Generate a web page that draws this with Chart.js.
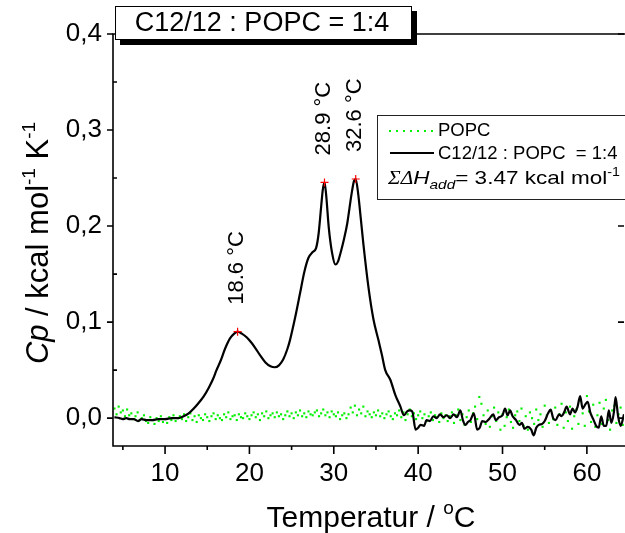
<!DOCTYPE html>
<html>
<head>
<meta charset="utf-8">
<script src="https://cdn.jsdelivr.net/npm/chart.js@4.4.1/dist/chart.umd.min.js"></script>
<style>
  html, body { margin: 0; padding: 0; background: #fff; overflow: hidden; }
  canvas { display: block; }
</style>
</head>
<body>
<canvas id="dsc" width="625" height="533"></canvas>
<script>
// Excess heat capacity of C12/12 : POPC = 1:4 vesicles (black trace)
const tempMix = [
  4.0, 4.6, 5.0, 5.4, 5.8, 6.3, 6.8, 7.2, 7.8, 8.5, 9.2, 10.0, 10.8, 11.6,
  12.2, 12.8, 13.4, 14.0, 14.6, 15.2, 15.7, 16.1, 16.6, 17.1, 17.7, 18.2, 18.6,
  19.1, 19.7, 20.2, 20.7, 21.3, 21.9, 22.5, 23.0, 23.5, 24.0, 24.5, 24.8, 25.4,
  26.0, 26.5, 27.0, 27.5, 27.9, 28.2, 28.5, 28.7, 28.9, 29.1, 29.4, 29.8, 30.2,
  30.5, 30.8, 31.2, 31.6, 32.1, 32.4, 32.6, 32.9, 33.2, 33.5, 34.1, 34.7, 35.3,
  35.7, 36.1, 36.7, 37.3, 37.9, 38.3, 38.7, 39.0, 39.3, 39.7, 40.0, 40.3, 40.7,
  41.0, 41.4, 41.8, 42.2, 42.6, 43.0, 43.4, 43.8, 44.2, 44.6, 45.0, 45.3, 45.6,
  45.9, 46.2, 46.6, 47.0, 47.3, 47.6, 48.0, 48.4, 48.9, 49.2, 49.6, 50.0, 50.3,
  50.6, 50.9, 51.2, 51.6, 52.0, 52.3, 52.6, 53.0, 53.4, 53.7, 54.0, 54.3, 54.7,
  55.0, 55.4, 55.7, 56.0, 56.3, 56.7, 57.0, 57.3, 57.6, 58.0, 58.3, 58.6, 58.9,
  59.2, 59.5, 59.8, 60.1, 60.4, 60.8, 61.1, 61.4, 61.7, 62.0, 62.3, 62.6, 62.9,
  63.2, 63.4, 63.7, 64.0, 64.4
];
const cpMix = [
  0.001, 0.000, -0.001, 0.000, -0.001, -0.001, -0.003, -0.001, -0.002, -0.002, -0.001, -0.001, 0.000, 0.000,
  0.002, 0.005, 0.010, 0.016, 0.023, 0.032, 0.041, 0.050, 0.060, 0.072, 0.083, 0.088, 0.090,
  0.088, 0.084, 0.079, 0.073, 0.065, 0.058, 0.054, 0.053, 0.055, 0.061, 0.072, 0.081, 0.104,
  0.130, 0.152, 0.167, 0.173, 0.177, 0.192, 0.220, 0.238, 0.2455, 0.232, 0.199, 0.172, 0.160,
  0.163, 0.172, 0.186, 0.203, 0.233, 0.247, 0.249, 0.233, 0.208, 0.182, 0.137, 0.103, 0.081,
  0.066, 0.050, 0.040, 0.024, 0.012, 0.003, 0.007, 0.008, 0.007, -0.012, -0.010, -0.007, -0.008,
  -0.002, -0.003, 0.002, 0.000, 0.004, 0.001, 0.003, 0.000, 0.004, 0.001, 0.008, -0.002, -0.007,
  -0.004, -0.002, 0.005, -0.012, -0.010, -0.003, -0.004, -0.001, 0.004, -0.002, 0.001, 0.003, 0.010,
  0.003, 0.008, 0.002, -0.002, -0.007, -0.005, -0.011, -0.009, -0.012, -0.018, -0.010, -0.007, -0.006,
  -0.003, 0.005, 0.009, 0.000, -0.002, 0.004, 0.002, 0.006, 0.012, 0.004, 0.010, 0.006, 0.012,
  0.023, 0.010, 0.014, 0.017, 0.006, -0.002, -0.008, -0.010, 0.002, -0.008, -0.008, 0.008, -0.005,
  0.006, 0.022, 0.002, -0.008, 0.004
];

// Pure POPC reference scan, sampled every 0.25 °C from 4.0 °C (values in 10^-3 kcal mol^-1 K^-1)
const popcStartT = 4.0;
const popcStepT = 0.25;
const cpPopcMilli = [
  10, 4, 12, 6, 8, 2, 9, 3, 5, -1, 2, 6, -2, 0, 3, -3, -5, 1, -2, -6, 0, -3, 2, -4, -1, -5, 1, -2, 3, -3, 0, 2,
  -1, 4, -3, 1, 5, -2, 2, -4, 3, 0, -2, 4, 1, -3, 2, 5, -1, 3, 0, -2, 4, 1, 6, -1, 2, 3, -2, 4, 1, 0, 5, 2,
  -1, 3, 6, 1, 4, -2, 5, 2, 7, 0, 3, 5, 1, 6, 2, 4, -1, 3, 7, 2, 5, 0, 6, 3, 8, 2, 5, 1, 7, 4, 3, 6,
  8, 2, 5, 9, 3, 6, 1, 7, 4, 2, 6, -1, 3, 5, 0, 4, 11, 6, 13, 3, 9, 5, 12, 2, 7, 4, 1, 6, 3, 8, 2, 5,
  0, 4, 7, 2, -1, 5, 3, 8, 1, 6, -2, 4, 9, 2, 5, -1, 3, 7, 0, 4, -3, 2, 6, -2, 3, 1, -4, 5, 0, 3, -3, 2,
  6, -5, 3, 9, -2, 4, -7, 1, 8, -4, 5, 12, -1, 22, 15, 3, -6, 8, -9, 2, 11, -3, 6, -12, 4, -8, 1, 9, -4, -10, 3, 7,
  -3, 10, -8, 2, -12, 6, 0, -6, 9, -2, 4, -9, 13, 3, -5, 8, -1, 11, -7, 4, 15, -10, 6, -3, 12, -11, 2, 9, -6, 18, 5, -8,
  23, 7, -4, 14, -9, 3, 16, -6, 10, 19, -2, -12, 8, 13, -5, 4, 11, -7
];

// Transition maxima
const peakT = [18.6, 28.9, 32.6];
const peakCp = [0.090, 0.2455, 0.249];

// Axes
const xRange = [3.83, 64.4];
const yRange = [-0.029, 0.4];
const xTicks = [10, 20, 30, 40, 50, 60];
const xMinorTicks = [5, 15, 25, 35, 45, 55];
const yTicks = [0.0, 0.1, 0.2, 0.3, 0.4];
const yTickLabels = ['0,0', '0,1', '0,2', '0,3', '0,4'];
const yMinorTicks = [0.05, 0.15, 0.25, 0.35];

// Texts
const boxTitle = 'C12/12 : POPC = 1:4';
const legendPopc = 'POPC';
const legendMix = 'C12/12 : POPC  = 1:4';
const enthalpySum = '3.47';

const SANS = '"Liberation Sans", Arial, Helvetica, sans-serif';
const SERIF = '"Liberation Serif", "Times New Roman", serif';
const GREEN = '#00f000';

// Draw a run of differently styled text pieces; returns the total width
function richWidth(ctx, parts) {
  let w = 0;
  for (const p of parts) { ctx.font = p.font; w += ctx.measureText(p.text).width; }
  return w;
}
function drawRich(ctx, parts, x, y) {
  let cx = x;
  for (const p of parts) {
    ctx.font = p.font;
    ctx.fillText(p.text, cx, y + (p.dy || 0));
    cx += ctx.measureText(p.text).width;
  }
  return cx - x;
}

const decorations = {
  id: 'decorations',
  afterDraw(chart) {
    const ctx = chart.ctx;
    const a = chart.chartArea;
    const xs = chart.scales.x;
    const ys = chart.scales.y;
    ctx.save();
    ctx.fillStyle = '#000';
    ctx.strokeStyle = '#000';

    // frame: left, bottom and top axis lines
    ctx.lineWidth = 1.6;
    ctx.beginPath();
    ctx.moveTo(a.left, a.top); ctx.lineTo(a.left, a.bottom);
    ctx.moveTo(a.left - 0.8, a.bottom); ctx.lineTo(a.right + 4, a.bottom);
    ctx.moveTo(a.left - 0.8, a.top); ctx.lineTo(a.right + 4, a.top);
    ctx.stroke();

    // tick marks
    ctx.lineWidth = 1.6;
    ctx.beginPath();
    xTicks.forEach(v => { const p = xs.getPixelForValue(v); ctx.moveTo(p, a.bottom); ctx.lineTo(p, a.bottom + 8); });
    xMinorTicks.forEach(v => { const p = xs.getPixelForValue(v); ctx.moveTo(p, a.bottom); ctx.lineTo(p, a.bottom + 4); });
    yTicks.forEach(v => {
      const p = ys.getPixelForValue(v);
      ctx.moveTo(a.left - 6, p); ctx.lineTo(a.left, p);
      ctx.moveTo(a.right, p); ctx.lineTo(a.right - 6, p);
    });
    yMinorTicks.forEach(v => { const p = ys.getPixelForValue(v); ctx.moveTo(a.left, p); ctx.lineTo(a.left + 4, p); });
    ctx.stroke();

    // tick labels
    ctx.font = '26px ' + SANS;
    ctx.textBaseline = 'middle';
    ctx.textAlign = 'right';
    yTicks.forEach((v, i) => ctx.fillText(yTickLabels[i], a.left - 11, ys.getPixelForValue(v)));
    ctx.textAlign = 'center';
    xTicks.forEach(v => ctx.fillText(String(v), xs.getPixelForValue(v), a.bottom + 28));

    // x axis title
    ctx.textAlign = 'left';
    ctx.textBaseline = 'alphabetic';
    const xt = [
      { text: 'Temperatur / ', font: '30px ' + SANS },
      { text: 'o', font: '19px ' + SANS, dy: -13 },
      { text: 'C', font: '30px ' + SANS }
    ];
    drawRich(ctx, xt, 371 - richWidth(ctx, xt) / 2, 527);

    // y axis title
    const yt = [
      { text: 'Cp', font: 'italic 31px ' + SANS },
      { text: ' / kcal mol', font: '31px ' + SANS },
      { text: '-1', font: '19px ' + SANS, dy: -13 },
      { text: ' K', font: '31px ' + SANS },
      { text: '-1', font: '19px ' + SANS, dy: -13 }
    ];
    ctx.save();
    ctx.translate(48, 243);
    ctx.rotate(-Math.PI / 2);
    drawRich(ctx, yt, -richWidth(ctx, yt) / 2, 0);
    ctx.restore();

    // peak temperature labels
    ctx.font = '22px ' + SANS;
    ctx.textAlign = 'left';
    ctx.textBaseline = 'middle';
    peakT.forEach((t, i) => {
      const px = xs.getPixelForValue(t);
      const py = ys.getPixelForValue(peakCp[i]);
      ctx.save();
      ctx.translate(px - 1, py - 27);
      ctx.rotate(-Math.PI / 2);
      ctx.fillText(t.toFixed(1) + ' °C', 0, 0);
      ctx.restore();
    });

    // title box with drop shadow
    ctx.fillStyle = '#000';
    ctx.fillRect(120, 11, 297, 34);
    ctx.fillStyle = '#fff';
    ctx.fillRect(115, 6, 297, 34);
    ctx.lineWidth = 1;
    ctx.strokeRect(115.5, 6.5, 296, 33);
    ctx.fillStyle = '#000';
    ctx.font = '27px ' + SANS;
    ctx.textAlign = 'center';
    ctx.textBaseline = 'middle';
    ctx.fillText(boxTitle, 262, 24);

    // legend
    ctx.fillStyle = '#fff';
    ctx.fillRect(377, 115, 300, 85);
    ctx.strokeStyle = '#222';
    ctx.lineWidth = 1;
    ctx.strokeRect(377.5, 115.5, 300, 84);
    ctx.fillStyle = GREEN;
    for (let x = 390; x <= 433; x += 7) ctx.fillRect(x - 1, 130, 2, 2);
    ctx.strokeStyle = '#000';
    ctx.lineWidth = 2;
    ctx.beginPath(); ctx.moveTo(390, 153); ctx.lineTo(434, 153); ctx.stroke();
    ctx.fillStyle = '#000';
    ctx.font = '18.5px ' + SANS;
    ctx.textAlign = 'left';
    ctx.textBaseline = 'middle';
    ctx.fillText(legendPopc, 438, 131);
    ctx.fillText(legendMix, 438, 154);
    ctx.textBaseline = 'alphabetic';
    const hLine = [
      { text: 'ΣΔ', font: 'italic 18px ' + SERIF },
      { text: 'H', font: 'italic 19px ' + SANS },
      { text: 'add', font: 'italic 13px ' + SANS, dy: 5 },
      { text: '= ' + enthalpySum + ' kcal mol', font: '19px ' + SANS },
      { text: '-1', font: '12px ' + SANS, dy: -8 }
    ];
    ctx.save();
    ctx.translate(388, 184);
    ctx.scale(232 / richWidth(ctx, hLine), 1);
    drawRich(ctx, hLine, 0, 0);
    ctx.restore();

    ctx.restore();
  }
};

new Chart(document.getElementById('dsc'), {
  type: 'scatter',
  data: {
    datasets: [
      {
        label: 'maxima',
        data: peakT.map((t, i) => ({ x: t, y: peakCp[i] })),
        pointStyle: 'cross',
        pointRadius: 4,
        borderColor: '#ff0000',
        borderWidth: 1.2,
        showLine: false,
        order: 0
      },
      {
        label: legendMix,
        data: tempMix.map((t, i) => ({ x: t, y: cpMix[i] })),
        showLine: true,
        borderColor: '#000',
        borderWidth: 2.2,
        pointRadius: 0,
        cubicInterpolationMode: 'monotone',
        order: 1
      },
      {
        label: legendPopc,
        data: cpPopcMilli.map((v, i) => ({ x: popcStartT + i * popcStepT, y: v / 1000 })),
        showLine: false,
        pointStyle: 'rect',
        pointRadius: 1.5,
        backgroundColor: GREEN,
        borderWidth: 0,
        order: 2
      }
    ]
  },
  options: {
    responsive: false,
    animation: false,
    events: [],
    layout: { autoPadding: false, padding: { left: 0, top: 34, right: 1, bottom: 0 } },
    plugins: { legend: { display: false }, tooltip: { enabled: false } },
    scales: {
      x: {
        type: 'linear', min: xRange[0], max: xRange[1],
        ticks: { display: false }, grid: { display: false }, border: { display: false },
        afterFit: s => { s.height = 87; }
      },
      y: {
        type: 'linear', min: yRange[0], max: yRange[1],
        ticks: { display: false }, grid: { display: false }, border: { display: false },
        afterFit: s => { s.width = 113; }
      }
    }
  },
  plugins: [decorations]
});
</script>
</body>
</html>
